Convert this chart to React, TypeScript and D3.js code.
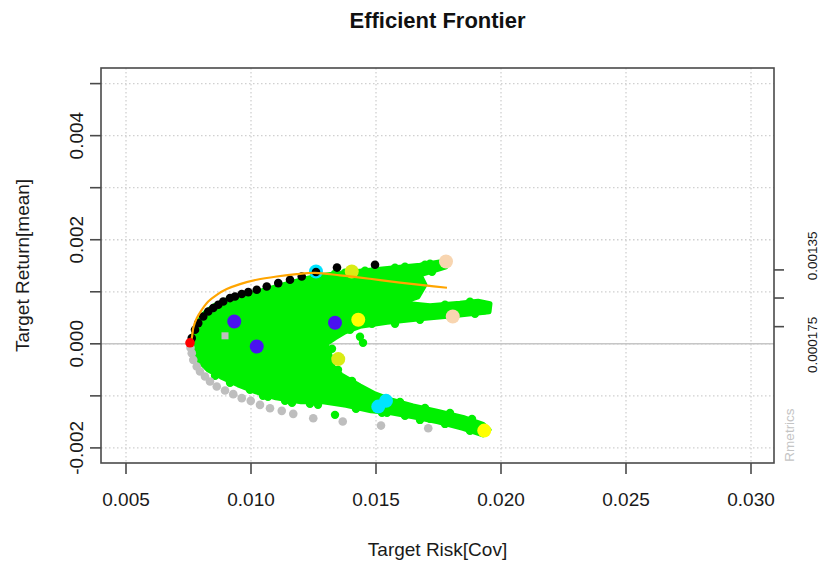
import React from "react";
import * as d3 from "d3";

// ---------- axes ----------
const xTicks = [0.005, 0.01, 0.015, 0.02, 0.025, 0.03];
const xTickLabels = ["0.005", "0.010", "0.015", "0.020", "0.025", "0.030"];
const yTicks = [-0.002, -0.001, 0, 0.001, 0.002, 0.003, 0.004, 0.005];
const yTickLabels = ["-0.002", "", "0.000", "", "0.002", "", "0.004", ""];
const xDomain = [0.004, 0.03092];
const yDomain = [-0.00229, 0.0053];
const rightTicks = [0.00142, 0.00088, 0.00033];
const rightLabelText = ["0.00135", "0.000175"];
const rightLabelAt = [0.00169, -0.00002];

// ---------- efficient frontier (black) ----------
const frontierRisk = [0.00763, 0.00776, 0.00789, 0.00809, 0.00829, 0.00849, 0.00869, 0.00889, 0.00916, 0.00936, 0.00963, 0.00989, 0.01023, 0.01063, 0.01109, 0.01156, 0.01203, 0.0126, 0.01344, 0.01496];
const frontierReturn = [0.00011, 0.000269, 0.000398, 0.000525, 0.000621, 0.000687, 0.00075, 0.000813, 0.000879, 0.00091, 0.000956, 0.000994, 0.001038, 0.001102, 0.001167, 0.001231, 0.001294, 0.001379, 0.001465, 0.001519];

// ---------- inefficient frontier (grey) ----------
const lowerRisk = [0.00758, 0.00763, 0.00769, 0.00783, 0.00796, 0.00816, 0.00836, 0.00863, 0.00896, 0.00929, 0.00963, 0.00999, 0.01036, 0.01076, 0.01123, 0.01169, 0.01249, 0.01367, 0.0152, 0.01709];
const lowerReturn = [-0.000077, -0.000179, -0.000308, -0.000437, -0.000533, -0.000629, -0.000725, -0.000821, -0.000898, -0.000967, -0.001044, -0.001096, -0.001173, -0.001237, -0.001288, -0.001346, -0.001429, -0.001494, -0.001571, -0.001621];

// ---------- orange curve ----------
const curveRisk = [0.00756, 0.00763, 0.00769, 0.00783, 0.00803, 0.00829, 0.00863, 0.00903, 0.00956, 0.01023, 0.01103, 0.01183, 0.01256, 0.01356, 0.01476, 0.01596, 0.01696, 0.01784];
const curveReturn = [0.000019, 0.00011, 0.000302, 0.000494, 0.000654, 0.000813, 0.000942, 0.001052, 0.001148, 0.001231, 0.001294, 0.00134, 0.001362, 0.001317, 0.00125, 0.001177, 0.001123, 0.001077];

// ---------- Monte Carlo cloud outline (dense core) ----------
const cloudRisk = [0.00764, 0.00774, 0.00792, 0.00816, 0.00852, 0.009, 0.0096, 0.0102, 0.01088, 0.0116, 0.01228, 0.01276, 0.01396, 0.01556, 0.01676, 0.0176, 0.0178, 0.01676, 0.01696, 0.01668, 0.01596, 0.01716, 0.01836, 0.01908, 0.01956, 0.01952, 0.01808, 0.01676, 0.01544, 0.01436, 0.01376, 0.01336, 0.013, 0.01316, 0.01328, 0.0136, 0.01436, 0.01496, 0.0156, 0.01648, 0.01748, 0.01848, 0.01928, 0.01952, 0.01928, 0.01848, 0.01748, 0.01648, 0.0156, 0.0148, 0.0138, 0.01288, 0.012, 0.011, 0.0102, 0.00948, 0.0088, 0.00828, 0.00792, 0.00774];
const cloudReturn = [0, 0.00025, 0.000442, 0.000596, 0.000731, 0.000837, 0.000923, 0.00099, 0.001077, 0.001173, 0.00126, 0.001308, 0.001375, 0.001452, 0.00151, 0.001577, 0.001481, 0.001327, 0.001135, 0.000904, 0.000788, 0.000731, 0.000779, 0.000817, 0.000769, 0.000615, 0.000538, 0.000481, 0.000413, 0.000337, 0.000231, 0.000115, 0, -0.000212, -0.000442, -0.000596, -0.000808, -0.000962, -0.001077, -0.001192, -0.001298, -0.001413, -0.001548, -0.001654, -0.00175, -0.001625, -0.0015, -0.001404, -0.001327, -0.001288, -0.001183, -0.001115, -0.001115, -0.001038, -0.000923, -0.000788, -0.000635, -0.0005, -0.000327, -0.000154];

// ---------- Monte Carlo individual portfolios (edges and strays) ----------
const mcRisk = [0.01436, 0.01448, 0.01324, 0.01336, 0.01544, 0.01068, 0.01716, 0.01336, 0.01456, 0.01576, 0.01696, 0.01756, 0.01876, 0.01596, 0.01696, 0.01796, 0.01896, 0.00916, 0.00996, 0.01136, 0.01236,
  0.0142, 0.01524, 0.01616, 0.01676, 0.01776, 0.01876, 0.01596, 0.01696, 0.01796, 0.01884, 0.01776, 0.01876, 0.01576, 0.01676, 0.01796, 0.01896, 0.01376, 0.01496, 0.01616, 0.01716, 0.01724, 0.01396, 0.01484, 0.01348, 0.01404, 0.01048, 0.01164, 0.01268, 0.00856];
const mcReturn = [0.000135, 0.000019, -0.000096, -0.001365, -0.001327, -0.001019, -0.001442, 0.001346, 0.001404, 0.001462, 0.001519, 0.000615, 0.000692, -0.001269, -0.001385, -0.0015, -0.001635, -0.00075, -0.000885, -0.001096, -0.001154,
  -0.00125, -0.001327, -0.001385, -0.001462, -0.001539, -0.001673, -0.001115, -0.001231, -0.001327, -0.001442, 0.00075, 0.000808, 0.000385, 0.000462, 0.000519, 0.000577, 0.001365, 0.001423, 0.001481, 0.001538, 0.001385, 0.000269, 0.000385, -0.0005, -0.000712, -0.001, -0.001135, -0.001173, -0.000615];

// ---------- highlighted portfolios ----------
const specialRisk = [0.00933, 0.01023, 0.01336, 0.01403, 0.01429, 0.01349, 0.01933, 0.0126, 0.01509, 0.0154, 0.0178, 0.01807, 0.01929];
const specialReturn = [0.000429, -0.000052, 0.000404, 0.00139, 0.000462, -0.000294, -0.001667, 0.00139, -0.001206, -0.001096, 0.001583, 0.000525, 0.000687];
const specialGroup = ["blue", "blue", "blue", "yellowGreen", "yellow", "yellowGreen", "yellow", "cyan", "cyan", "cyan", "peach", "peach", "green"];

const minVarRisk = [0.00756];
const minVarReturn = [0.00002];
const equalWeightRisk = [0.00896];
const equalWeightReturn = [0.000154];

const groupColor: Record<string, string> = {
  blue: "#4a12f0",
  yellow: "#ffff00",
  yellowGreen: "#d9ec14",
  cyan: "#00e4ff",
  peach: "#f8d5b0",
  green: "#00f000",
};

const FONT = "'Liberation Sans', Arial, Helvetica, sans-serif";

export default function App() {
  const left = 101, right = 774, top = 68, bottom = 463;
  const x = d3.scaleLinear().domain(xDomain).range([left, right]);
  const y = d3.scaleLinear().domain(yDomain).range([bottom, top]);

  const cloudPath = d3
    .line<number>()
    .x((_, i) => x(cloudRisk[i]))
    .y((_, i) => y(cloudReturn[i]))
    .curve(d3.curveLinearClosed)(cloudRisk as any) as string;

  const curvePath = d3
    .line<number>()
    .x((_, i) => x(curveRisk[i]))
    .y((_, i) => y(curveReturn[i]))
    .curve(d3.curveCatmullRom.alpha(0.5))(curveRisk as any) as string;

  const green = "#00f000";
  const axisColor = "#4a4a4a";
  const textColor = "#1a1a1a";

  return (
    <svg
      width={819}
      height={567}
      style={{ position: "absolute", left: 0, top: 0, background: "#fff" }}
      fontFamily={FONT}
    >
      <rect x={0} y={0} width={819} height={567} fill="#fff" />
      {/* title */}
      <text x={(left + right) / 2} y={28} textAnchor="middle" fontSize={22} fontWeight="bold" fill="#111">
        Efficient Frontier
      </text>

      {/* grid */}
      {xTicks.map((t) => (
        <line key={"gx" + t} x1={x(t)} x2={x(t)} y1={top} y2={bottom} stroke="#d0d0d0" strokeWidth={1.3} strokeDasharray="1.5 2.5" />
      ))}
      {yTicks.map((t) => (
        <line key={"gy" + t} x1={left} x2={right} y1={y(t)} y2={y(t)} stroke="#d0d0d0" strokeWidth={1.3} strokeDasharray="1.5 2.5" />
      ))}
      <line x1={left} x2={right} y1={y(0)} y2={y(0)} stroke="#c6c6c6" strokeWidth={1.6} />

      {/* monte carlo cloud */}
      <path d={cloudPath} fill={green} stroke={green} strokeWidth={5} strokeLinejoin="round" />
      {mcRisk.map((r, i) => (
        <circle key={"mc" + i} cx={x(r)} cy={y(mcReturn[i])} r={4.2} fill={green} />
      ))}

      {/* highlighted portfolios */}
      {specialRisk.map((r, i) => (
        <circle key={"sp" + i} cx={x(r)} cy={y(specialReturn[i])} r={specialGroup[i] === "green" ? 6.5 : 7} fill={groupColor[specialGroup[i]]} />
      ))}

      {/* lower (inefficient) frontier */}
      {lowerRisk.map((r, i) => (
        <circle key={"lo" + i} cx={x(r)} cy={y(lowerReturn[i])} r={4.3} fill="#bebebe" />
      ))}
      {/* efficient frontier */}
      {frontierRisk.map((r, i) => (
        <circle key={"fr" + i} cx={x(r)} cy={y(frontierReturn[i])} r={4.3} fill="#000" />
      ))}

      {/* orange curve */}
      <path d={curvePath} fill="none" stroke="#ffa500" strokeWidth={2.2} />

      {/* equal weights */}
      {equalWeightRisk.map((r, i) => (
        <rect key={"ew" + i} x={x(r) - 3.5} y={y(equalWeightReturn[i]) - 3.5} width={7} height={7} fill="#bebebe" />
      ))}
      {/* minimum variance */}
      {minVarRisk.map((r, i) => (
        <circle key={"mv" + i} cx={x(r)} cy={y(minVarReturn[i])} r={4.8} fill="#ff0000" />
      ))}

      {/* box */}
      <rect x={left} y={top} width={right - left} height={bottom - top} fill="none" stroke={axisColor} strokeWidth={1.6} />

      {/* x axis */}
      {xTicks.map((t, i) => (
        <g key={"xt" + t}>
          <line x1={x(t)} x2={x(t)} y1={bottom} y2={bottom + 11} stroke={axisColor} strokeWidth={1.6} />
          <text x={x(t)} y={506} textAnchor="middle" fontSize={19} fill={textColor}>
            {xTickLabels[i]}
          </text>
        </g>
      ))}
      <text x={(left + right) / 2} y={556} textAnchor="middle" fontSize={19} fill={textColor}>
        Target Risk[Cov]
      </text>

      {/* y axis */}
      {yTicks.map((t, i) => (
        <g key={"yt" + t}>
          <line x1={left - 11} x2={left} y1={y(t)} y2={y(t)} stroke={axisColor} strokeWidth={1.6} />
          {yTickLabels[i] && (
            <text transform={`translate(76,${y(t)}) rotate(-90)`} textAnchor="middle" dy="0.35em" fontSize={19} fill={textColor}>
              {yTickLabels[i]}
            </text>
          )}
        </g>
      ))}
      <text transform={`translate(22,${(top + bottom) / 2}) rotate(-90)`} textAnchor="middle" dy="0.35em" fontSize={19} fill={textColor}>
        Target Return[mean]
      </text>

      {/* right axis */}
      {rightTicks.map((t) => (
        <line key={"rt" + t} x1={right} x2={right + 10} y1={y(t)} y2={y(t)} stroke={axisColor} strokeWidth={1.6} />
      ))}
      {rightLabelText.map((s, i) => (
        <text key={"rl" + i} transform={`translate(812,${y(rightLabelAt[i])}) rotate(-90)`} textAnchor="middle" dy="0.35em" fontSize={13.5} fill={textColor}>
          {s}
        </text>
      ))}
      <text transform={`translate(789,435) rotate(-90)`} textAnchor="middle" dy="0.35em" fontSize={13.5} fill="#c4c4c4">
        Rmetrics
      </text>
    </svg>
  );
}
